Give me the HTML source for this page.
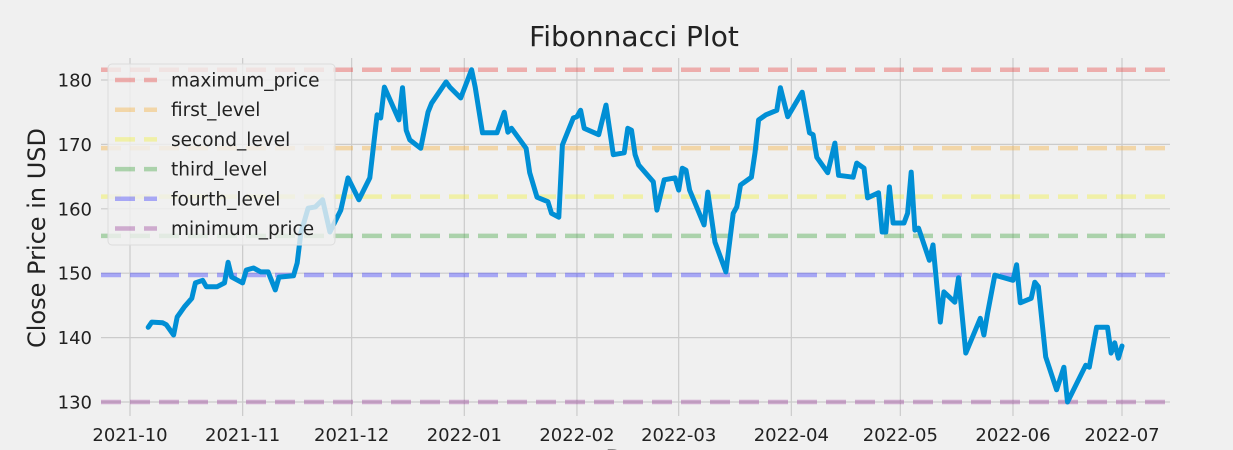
<!DOCTYPE html>
<html><head><meta charset="utf-8"><style>
html,body{margin:0;padding:0;background:#f0f0f0;}
svg{display:block;font-family:"DejaVu Sans","Liberation Sans",sans-serif;}
</style></head><body>
<svg id="chart" width="1233" height="450" viewBox="0 0 1233 450">
<rect x="0" y="0" width="1233" height="450" fill="#f0f0f0"/>
<g id="grid"></g>
<g id="levels"></g>
<g id="series"></g>
<g id="axes"></g>
<text x="634" y="46" font-size="28" text-anchor="middle" fill="#222">Fibonnacci Plot</text>
<text transform="translate(45,238) rotate(-90)" font-size="24" text-anchor="middle" fill="#222">Close Price in USD</text>
<text x="634" y="467" font-size="24" text-anchor="middle" fill="#222">Date</text>
<g id="legend"></g>
</svg>
<script>
const dates = ["2021-10-06","2021-10-07","2021-10-10","2021-10-11","2021-10-13","2021-10-14","2021-10-16","2021-10-18","2021-10-19","2021-10-21","2021-10-22","2021-10-25","2021-10-27","2021-10-28","2021-10-29","2021-11-01","2021-11-02","2021-11-04","2021-11-06","2021-11-08","2021-11-10","2021-11-11","2021-11-15","2021-11-16","2021-11-17","2021-11-19","2021-11-21","2021-11-23","2021-11-25","2021-11-28","2021-11-30","2021-12-03","2021-12-06","2021-12-08","2021-12-09","2021-12-10","2021-12-14","2021-12-15","2021-12-16","2021-12-17","2021-12-20","2021-12-22","2021-12-23","2021-12-27","2021-12-28","2021-12-31","2022-01-03","2022-01-04","2022-01-06","2022-01-10","2022-01-12","2022-01-13","2022-01-14","2022-01-18","2022-01-19","2022-01-21","2022-01-24","2022-01-25","2022-01-27","2022-01-28","2022-01-31","2022-02-01","2022-02-02","2022-02-03","2022-02-07","2022-02-09","2022-02-11","2022-02-14","2022-02-15","2022-02-16","2022-02-17","2022-02-18","2022-02-22","2022-02-23","2022-02-25","2022-02-28","2022-03-01","2022-03-02","2022-03-03","2022-03-04","2022-03-08","2022-03-09","2022-03-11","2022-03-14","2022-03-16","2022-03-17","2022-03-18","2022-03-21","2022-03-22","2022-03-23","2022-03-25","2022-03-28","2022-03-29","2022-03-31","2022-04-04","2022-04-06","2022-04-07","2022-04-08","2022-04-11","2022-04-13","2022-04-14","2022-04-18","2022-04-19","2022-04-21","2022-04-22","2022-04-25","2022-04-26","2022-04-27","2022-04-28","2022-04-29","2022-05-02","2022-05-03","2022-05-04","2022-05-05","2022-05-06","2022-05-09","2022-05-10","2022-05-12","2022-05-13","2022-05-16","2022-05-17","2022-05-19","2022-05-23","2022-05-24","2022-05-25","2022-05-27","2022-06-01","2022-06-02","2022-06-03","2022-06-06","2022-06-07","2022-06-08","2022-06-10","2022-06-13","2022-06-15","2022-06-16","2022-06-21","2022-06-22","2022-06-24","2022-06-27","2022-06-28","2022-06-29","2022-06-30","2022-07-01"];
const prices = [141.6,142.4,142.3,142.0,140.4,143.2,144.8,146.1,148.5,148.9,147.9,147.9,148.5,151.7,149.4,148.5,150.5,150.8,150.2,150.2,147.4,149.4,149.6,151.6,156.2,160.1,160.3,161.4,156.4,159.8,164.8,161.4,164.8,174.6,174.1,178.9,173.8,178.8,172.2,170.7,169.4,175.0,176.4,179.7,178.9,177.2,181.6,178.9,171.8,171.8,175.0,171.9,172.5,169.4,165.6,161.8,161.1,159.3,158.7,169.9,174.1,174.3,175.3,172.5,171.5,176.1,168.4,168.7,172.5,172.2,168.4,166.8,164.2,159.8,164.5,164.8,162.9,166.3,166.0,162.9,157.5,162.6,154.8,150.2,159.3,160.3,163.7,164.9,168.7,173.8,174.6,175.3,178.8,174.3,178.1,171.8,171.5,168.0,165.6,170.2,165.2,164.9,167.1,166.3,161.7,162.5,156.4,156.4,163.4,157.8,157.8,159.3,165.7,156.7,157.0,152.0,154.4,142.4,147.1,145.5,149.3,137.6,143.0,140.4,143.8,149.7,148.9,151.3,145.4,146.1,148.6,147.9,137.0,131.9,135.4,130.0,135.7,135.4,141.6,141.6,137.6,139.2,136.8,138.7];
const levelNames = ["maximum_price","first_level","second_level","third_level","fourth_level","minimum_price"];
const levelRatios = [0,0.236,0.382,0.5,0.618,1];
const levelColors = ["#e8322e","#f5a623","#f0f020","#2a9a2a","#2020ff","#8e2a8e"];
const xTickLabels = ["2021-10","2021-11","2021-12","2022-01","2022-02","2022-03","2022-04","2022-05","2022-06","2022-07"];
const yTicks = [130,140,150,160,170,180];

const NS="http://www.w3.org/2000/svg";
const L=101,R=1170,T=58,B=416;
const d0=Date.parse("2021-10-01"), d1=Date.parse("2022-07-01");
const x0=130,x1=1122;
function xs(s){return x0+(Date.parse(s)-d0)/(d1-d0)*(x1-x0);}
function ys(v){return 402-(v-130)*6.44;}
function mk(tag,attrs,parent){const e=document.createElementNS(NS,tag);for(const k in attrs)e.setAttribute(k,attrs[k]);parent.appendChild(e);return e;}

const grid=document.getElementById('grid'),axes=document.getElementById('axes');
xTickLabels.forEach(lbl=>{
  const x=xs(lbl+"-01");
  const g=mk('line',{x1:x,x2:x,y1:T,y2:B,stroke:'#cbcbcb','stroke-width':1.2},grid);
  
  
  const t=mk('text',{x:x,y:441,'font-size':18,'text-anchor':'middle',fill:'#222'},axes);
  t.textContent=lbl;
  
  
});
yTicks.forEach(v=>{
  const y=ys(v);
  const g=mk('line',{x1:L,x2:R,y1:y,y2:y,stroke:'#cbcbcb','stroke-width':1.2},grid);
  
  
  const t=mk('text',{x:92,y:y+6.5,'font-size':18,'text-anchor':'end',fill:'#222'},axes);
  t.textContent=v;
  
  
});

const pmax=Math.max(...prices),pmin=Math.min(...prices),diff=pmax-pmin;
const lv=document.getElementById('levels');
levelRatios.forEach((r,i)=>{
  const y=ys(pmax-r*diff);
  const l=mk('line',{x1:L,x2:R,y1:y,y2:y,stroke:levelColors[i],'stroke-opacity':0.35,'stroke-width':4.5,'stroke-dasharray':'20 9'},lv);
  
  
});

const pts=dates.map((d,i)=>xs(d).toFixed(1)+","+ys(prices[i]).toFixed(1)).join(" ");
const pl=mk('polyline',{points:pts,fill:'none',stroke:'#008fd5','stroke-width':5,'stroke-linejoin':'round','stroke-linecap':'round'},document.getElementById('series'));



const lg=document.getElementById('legend');
const box=mk('rect',{x:108,y:64,width:227,height:181,rx:4,fill:'#f0f0f0','fill-opacity':0.8,stroke:'#dcdcdc','stroke-width':1},lg);


levelNames.forEach((n,i)=>{
  const y=80+i*29.7;
  const l=mk('line',{x1:115,x2:157,y1:y,y2:y,stroke:levelColors[i],'stroke-opacity':0.35,'stroke-width':4.5,'stroke-dasharray':'20 9'},lg);
  
  
  const t=mk('text',{x:171,y:y+6.5,'font-size':18.5,fill:'#222'},lg);
  t.textContent=n;
  
  
});
</script>
</body></html>
